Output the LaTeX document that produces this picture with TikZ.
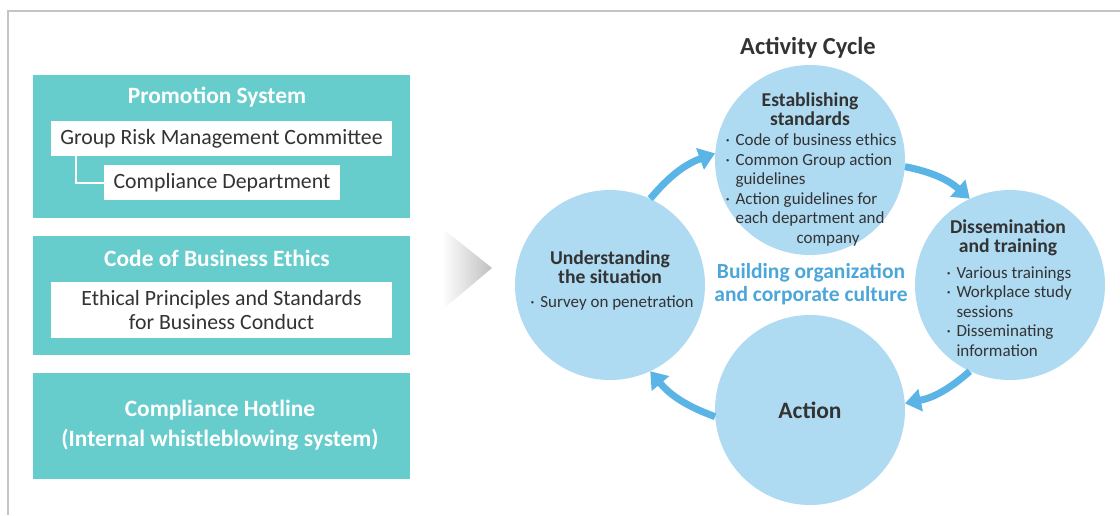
\documentclass[tikz,border=0pt]{standalone}
\usepackage{fontspec}
\setmainfont{Carlito}
\usetikzlibrary{arrows.meta}
\definecolor{teal1}{HTML}{66CCCC}
\definecolor{cyc}{HTML}{AEDAF2}
\definecolor{cycarr}{HTML}{5AB4E6}
\definecolor{cycblue}{HTML}{4BA6DA}
\definecolor{ink}{HTML}{333333}
\definecolor{frame}{HTML}{C4C4C4}
\newcommand\bul{\makebox[10pt][l]{·}}
\newcommand\indt{\hspace*{10pt}}
\begin{document}
\begin{tikzpicture}[x=1pt, y=-1pt,
  tealbox/.style={fill=teal1, inner sep=0pt},
  whitebox/.style={fill=white, inner sep=0pt, text=ink, font=\fontsize{21.8}{24}\selectfont, align=center},
  boxtitle/.style={text=white, font=\bfseries\fontsize{23.4}{30}\selectfont, align=center},
  cycnode/.style={circle, fill=cyc, minimum size=190pt, inner sep=0pt},
  cyctitle/.style={text=ink, font=\bfseries\fontsize{19.6}{18.8}\selectfont, align=center},
  cyclist/.style={text=ink, font=\fontsize{17}{19.6}\selectfont, align=left, anchor=west},
  cycarrow/.style={draw=cycarr, line width=7pt, -{Triangle[width=22pt,length=16pt]}}]
\useasboundingbox (0,0) rectangle (1120,515);
\draw[frame, line width=1.5pt] (8,515) -- (8,11) -- (1120,11);
% left column
\node[tealbox, minimum width=377pt, minimum height=143pt] (promo)   at (221.5,146.5) {};
\node[tealbox, minimum width=377pt, minimum height=119pt] (ethics)  at (221.5,295.5) {};
\node[tealbox, minimum width=377pt, minimum height=106pt] (hotline) at (221.5,426) {};
\node[boxtitle] (promot)  at (217,97)  {Promotion System};
\node[boxtitle] (ethicst) at (217,258) {Code of Business Ethics};
\node[boxtitle] (hotlinet) at (220,425) {Compliance Hotline\\(Internal whistleblowing system)};
\node[whitebox, minimum width=341pt, minimum height=35pt] (grmc)  at (221.5,138.5) {Group Risk Management Committee};
\node[whitebox, minimum width=236pt, minimum height=35pt] (cdept) at (222,182.5) {Compliance Department};
\node[whitebox, minimum width=341pt, minimum height=56pt] (epsbc) at (221.5,310) {Ethical Principles and Standards\\for Business Conduct};
\draw[white, line width=2pt] ([xshift=25pt]grmc.south west) |- (cdept.west);
% arrow in the middle
\shade[left color=white, right color=black!25] (442,228) -- (492,268) -- (442,310) -- cycle;
% activity cycle
\node[text=ink, font=\bfseries\fontsize{24.5}{26}\selectfont] (cyct) at (808,48) {Activity Cycle};
\node[cycnode] (est) at (810,160) {};
\node[cycnode] (dis) at (1010,285) {};
\node[cycnode] (act) at (810,410) {};
\node[cycnode] (und) at (610,285) {};
\draw[cycarrow] (und.65)   to[bend left=15] (est.176);
\draw[cycarrow] (est.-4)   to[bend left=15] (dis.115);
\draw[cycarrow] (dis.-115) to[bend left=15] (act.4);
\draw[cycarrow] (act.184)  to[bend left=15] (und.-65);
\node[cyctitle] (estt) at (810,109) {Establishing\\standards};
\node[cyclist]  (estl) at (722,190) {\bul Code of business ethics\\\bul Common Group action\\\indt guidelines\\\bul Action guidelines for\\\indt each department and\\\hspace*{71pt}company};
\node[cyctitle] (dist) at (1008,238) {Dissemination\\and training};
\node[cyclist]  (disl) at (943,311.5) {\bul Various trainings\\\bul Workplace study\\\indt sessions\\\bul Disseminating\\\indt information};
\node[cyctitle] (undt) at (610,267) {Understanding\\the situation};
\node[cyclist, anchor=center] (undl) at (612,303) {\bul Survey on penetration};
\node[text=ink, font=\bfseries\fontsize{23.5}{26}\selectfont] (actt) at (810,410) {Action};
\node[text=cycblue, font=\bfseries\fontsize{21.5}{23}\selectfont, align=center] (core) at (811,284) {Building organization\\and corporate culture};
\end{tikzpicture}
\end{document}
